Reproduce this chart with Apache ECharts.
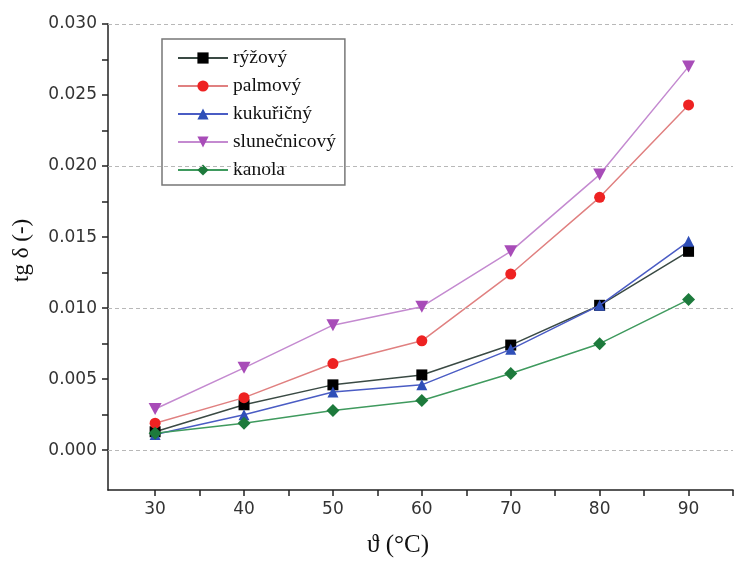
<!DOCTYPE html>
<html><head><meta charset="utf-8">
<script src="https://cdn.jsdelivr.net/npm/echarts@6/dist/echarts.min.js"></script>
<style>html,body{margin:0;padding:0;background:#fff}#c{width:741px;height:563px}</style>
</head><body><div id="c"></div>
<script>
const temps = [30, 40, 50, 60, 70, 80, 90];
const seriesNames = ['rýžový', 'palmový', 'kukuřičný', 'slunečnicový', 'kanola'];
const ryzovy = [0.0013, 0.0032, 0.0046, 0.0053, 0.0074, 0.0102, 0.0140];
const palmovy = [0.0019, 0.0037, 0.0061, 0.0077, 0.0124, 0.0178, 0.0243];
const kukuricny = [0.0011, 0.0025, 0.0041, 0.0046, 0.0071, 0.0102, 0.0147];
const slunecnicovy = [0.0029, 0.0058, 0.0088, 0.0101, 0.0140, 0.0194, 0.0270];
const kanola = [0.0012, 0.0019, 0.0028, 0.0035, 0.0054, 0.0075, 0.0106];
const yTicks = ['0.000', '0.005', '0.010', '0.015', '0.020', '0.025', '0.030'];
const yTickValues = [0, 0.005, 0.010, 0.015, 0.020, 0.025, 0.030];
const yMinorValues = [0, 0.0025, 0.005, 0.0075, 0.010, 0.0125, 0.015, 0.0175, 0.020, 0.0225, 0.025, 0.0275, 0.030];
const xTickValues = [30, 40, 50, 60, 70, 80, 90];
const xMinorValues = [30, 35, 40, 45, 50, 55, 60, 65, 70, 75, 80, 85, 90, 95];
const xName = 'ϑ (°C)';
const yName = 'tg δ (-)';

const values = [ryzovy, palmovy, kukuricny, slunecnicovy, kanola];
const styles = [
  {line: '#3a4a44', mark: '#000000', symbol: 'rect'},
  {line: '#e08080', mark: '#ee2222', symbol: 'circle'},
  {line: '#4a5cc4', mark: '#2f4fb8', symbol: 'triangle'},
  {line: '#c48ad0', mark: '#a84cb8', symbol: 'path://M-1,-1L1,-1L0,1Z'},
  {line: '#3f9a5e', mark: '#1d7a3c', symbol: 'diamond'}
];

const chart = echarts.init(document.getElementById('c'));
chart.setOption({
  backgroundColor: '#fff',
  animation: false,
  grid: {left: 108, right: 8, top: 24, bottom: 73, containLabel: false, outerBoundsMode: 'none'},
  legend: {
    orient: 'vertical', left: 162, top: 39,
    itemWidth: 50, itemHeight: 14, itemGap: 8,
    padding: [9, 9, 5, 15],
    borderColor: '#777', borderWidth: 1.5,
    textStyle: {fontFamily: 'Liberation Serif', fontSize: 19.5, lineHeight: 20, color: '#111'},
    data: seriesNames
  },
  graphic: [
    {type: 'text', x: 367, y: 533, style: {text: xName, font: '25px "Liberation Serif"', fill: '#111'}},
    {type: 'text', rotation: Math.PI / 2, x: 10, y: 282,
     style: {text: yName, font: '23px "Liberation Serif"', fill: '#111'}}
  ],
  xAxis: {
    type: 'value', min: 24.7, max: 95,
    axisLine: {onZero: false, lineStyle: {color: '#222', width: 1.5}},
    axisTick: {show: true, inside: false, length: 6, lineStyle: {color: '#222', width: 1.5},
      customValues: xMinorValues},
    axisLabel: {fontFamily: 'DejaVu Sans', fontSize: 17, color: '#333', margin: 11,
      customValues: xTickValues},
    splitLine: {show: false}
  },
  yAxis: {
    type: 'value', min: -0.0028, max: 0.030,
    axisLine: {show: true, onZero: false, lineStyle: {color: '#222', width: 1.5}},
    axisTick: {show: true, inside: false, length: 6, lineStyle: {color: '#222', width: 1.5},
      customValues: yMinorValues},
    minorTick: {show: false},
    axisLabel: {fontFamily: 'DejaVu Sans', fontSize: 17, color: '#333', margin: 11,
      customValues: yTickValues,
      formatter: v => yTicks[Math.round(v / 0.005)]},
    splitLine: {show: false}
  },
  series: [
    ...seriesNames.map((n, i) => ({
      name: n, type: 'line',
      data: temps.map((t, j) => [t, values[i][j]]),
      symbol: styles[i].symbol,
      symbolSize: i === 3 ? [13, 12] : (i === 4 ? 13 : 11),
      lineStyle: {color: styles[i].line, width: 1.5},
      itemStyle: {color: styles[i].mark},
      z: 3 + i
    })),
    {
      type: 'line', name: '_grid', silent: true, symbol: 'none', data: [],
      markLine: {
        silent: true, symbol: 'none', label: {show: false},
        lineStyle: {type: [4, 3], color: '#b8b8b8', width: 1},
        data: yTickValues.slice(0, 6).map(v => ({yAxis: v}))
      },
      z: 1
    }
  ]
});
</script></body></html>
